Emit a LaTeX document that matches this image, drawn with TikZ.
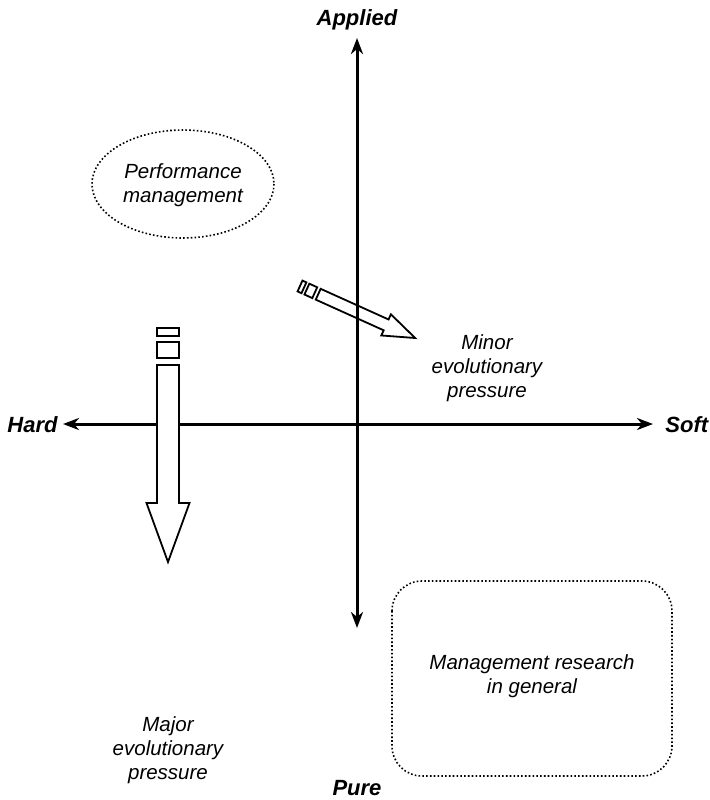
\documentclass[tikz,border=0pt]{standalone}
\usepackage{fontspec}
\setmainfont{Liberation Sans}
\usetikzlibrary{arrows.meta}
\newcommand{\brokenarrowshape}{%
  \draw[fatarrow] (0,-11) rectangle (8,11);
  \draw[fatarrow] (14,-11) rectangle (30,11);
  \draw[fatarrow] (37,-11) -- (175,-11) -- (175,-21.5) -- (234,0) -- (175,21.5) -- (175,11) -- (37,11) -- cycle;
}
\begin{document}
\begin{tikzpicture}[x=0.5pt,y=-0.5pt,
  axislabel/.style={font=\fontsize{11}{13}\selectfont\bfseries\itshape, inner sep=0pt},
  note/.style={font=\fontsize{10.25}{12}\selectfont\itshape, align=center, inner sep=0pt},
  axis/.style={line width=1.5pt, {Stealth[length=8pt,width=6pt,inset=2.5pt]}-{Stealth[length=8pt,width=6pt,inset=2.5pt]}},
  fatarrow/.style={line width=0.9pt, fill=white, line join=miter},
  dotline/.style={line width=0.8pt, dash pattern=on 0.8pt off 1.1pt}]
\useasboundingbox (0,0) rectangle (709,800);

% minor evolutionary pressure arrow (under the axis)
\begin{scope}[shift={(300,286)}, rotate=-24.3, scale=0.54]
  \brokenarrowshape
\end{scope}

% axes
\coordinate (ttop) at (357,38);
\coordinate (tbot) at (357,628);
\coordinate (tleft) at (63,424);
\coordinate (tright) at (653,424);
\draw[axis] (ttop) -- (tbot);
\draw[axis] (tleft) -- (tright);

\node[axislabel, anchor=base] (applied) at (357,25) {Applied};
\node[axislabel, anchor=base] (pure) at (357,795) {Pure};
\node[axislabel, anchor=base east] (hard) at (58,432) {Hard};
\node[axislabel, anchor=base west] (soft) at (665,432) {Soft};

% major evolutionary pressure arrow (over the axis)
\begin{scope}[shift={(168,328)}, rotate=-90]
  \brokenarrowshape
\end{scope}

% ellipse
\draw[dotline] (183,184) ellipse [x radius=91, y radius=54];
\node[note] (perf) at (183,185) {Performance\\management};

% rounded box
\draw[dotline, rounded corners=15pt] (392,581) rectangle (672,776);
\node[note] (mgmt) at (532,676) {Management research\\in general};

\node[note] (minor) at (487,368) {Minor\\evolutionary\\pressure};
\node[note] (major) at (168,750) {Major\\evolutionary\\pressure};
\end{tikzpicture}
\end{document}
